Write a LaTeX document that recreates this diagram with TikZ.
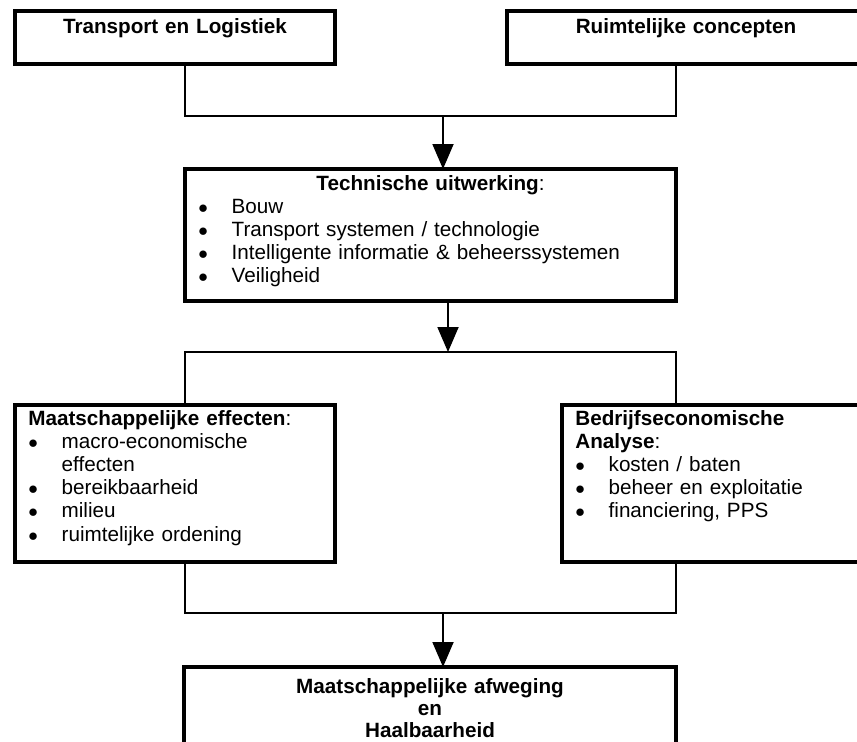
\documentclass[tikz,border=0pt]{standalone}
\usepackage{fontspec}
\setmainfont{Liberation Sans}
\usetikzlibrary{arrows.meta}
\newcommand{\punt}[1]{\noindent\hangindent=25pt\hangafter=1\makebox[25pt][l]{$\bullet$}#1\par}

\begin{document}
\begin{tikzpicture}[x=0.75pt, y=-0.75pt, every node/.style={font=\fontsize{15.5pt}{17.4pt}\selectfont}, >={Triangle[length=18.75pt, width=15.75pt]},
	blok/.style={draw, line width=3pt, rectangle, anchor=north west, outer sep=0pt, inner ysep=0pt, inner xsep=10pt, align=left},
	lijn/.style={line width=1.4pt}]
	\useasboundingbox (0,0) rectangle (857,742);
	\node[blok, inner xsep=0pt, text width=240pt, align=center, text height=17.25pt, text depth=22.5pt] (transport) at (15,11) {\textbf{Transport en Logistiek}};
	\node[blok, inner xsep=0pt, text width=268.5pt, align=center, text height=17.25pt, text depth=22.5pt] (ruimte) at (507,11) {\textbf{Ruimtelijke concepten}};
	\node[blok, text width=348.25pt, text height=15.75pt, text depth=83.25pt] (techniek) at (185,169) {{\centering\textbf{Technische uitwerking}:\par}\punt{Bouw}\punt{Transport systemen / technologie}\punt{Intelligente informatie \& beheerssystemen}\punt{Veiligheid}};
	\node[blok, text width=220pt, text height=15pt, text depth=102.75pt] (effecten) at (15,405) {\textbf{Maatschappelijke effecten}:\par\punt{macro-economische\newline effecten}\punt{bereikbaarheid}\punt{milieu}\punt{ruimtelijke ordening}};
	\node[blok, text width=208pt, text height=15pt, text depth=102.75pt] (analyse) at (562,405) {\textbf{Bedrijfseconomische}\newline\textbf{Analyse}:\par\punt{kosten / baten}\punt{beheer en exploitatie}\punt{financiering, PPS}};
	\node[blok, inner xsep=0pt, text width=369pt, align=center, font=\fontsize{15.5pt}{16.5pt}\selectfont, text height=19.5pt, text depth=75pt] (afweging) at (184,667) {\textbf{Maatschappelijke afweging}\\\textbf{en}\\\textbf{Haalbaarheid}};
	\coordinate (knoopA) at (443,116);
	\coordinate (knoopB) at (448,352);
	\coordinate (knoopC) at (443,613);
	\draw[lijn] (transport.south -| techniek.west) -- (techniek.west |- knoopA) -- (techniek.east |- knoopA) -- (ruimte.south -| techniek.east);
	\draw[lijn, ->] (knoopA) -- (knoopA |- techniek.north);
	\draw[lijn, ->] (knoopB |- techniek.south) -- (knoopB);
	\draw[lijn] (effecten.north -| techniek.west) -- (techniek.west |- knoopB) -- (techniek.east |- knoopB) -- (analyse.north -| techniek.east);
	\draw[lijn] (effecten.south -| techniek.west) -- (techniek.west |- knoopC) -- (techniek.east |- knoopC) -- (analyse.south -| techniek.east);
	\draw[lijn, ->] (knoopC) -- (knoopC |- afweging.north);
\end{tikzpicture}
\end{document}
